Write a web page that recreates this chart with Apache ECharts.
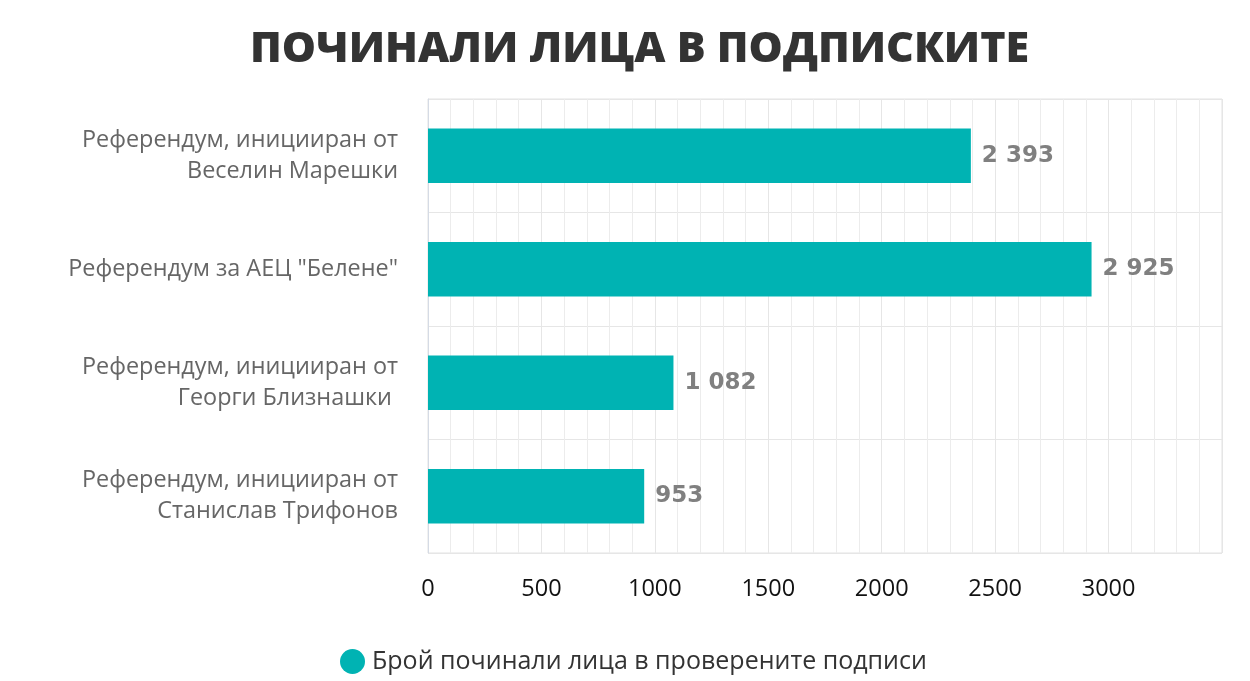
<!DOCTYPE html>
<html><head><meta charset="utf-8">
<script src="https://cdn.jsdelivr.net/npm/echarts@6/dist/echarts.min.js"></script>
<style>html,body{margin:0;padding:0;background:#fff}#c{width:1250px;height:681px}</style>
</head><body><div id="c"></div>
<script>
const titleText = 'ПОЧИНАЛИ ЛИЦА В ПОДПИСКИТЕ';
const seriesName = 'Брой починали лица в проверените подписи';
const categories = [
  'Референдум, иницииран от\nВеселин Марешки',
  'Референдум за АЕЦ "Белене"',
  'Референдум, иницииран от\nГеорги Близнашки ',
  'Референдум, иницииран от\nСтанислав Трифонов'
];
const values = [2393, 2925, 1082, 953];
const xTicks = [0, 500, 1000, 1500, 2000, 2500, 3000];

function fmt(v){ return String(v).replace(/\B(?=(\d{3})+(?!\d))/g, ' '); }

const chart = echarts.init(document.getElementById('c'));
chart.setOption({
  backgroundColor: '#fff',
  title: {
    text: titleText, left: 245, top: 23,
    textStyle: { fontFamily: 'Open Sans', fontWeight: 800, fontSize: 43, color: '#333' }
  },
  legend: {
    bottom: 2, left: 335, icon: 'circle', itemWidth: 25, itemHeight: 25, itemGap: 12,
    textStyle: { fontFamily: 'Open Sans', fontSize: 25, color: '#333', padding: [0, 0, 0, 2] },
    data: [seriesName]
  },
  grid: { left: 428, right: 28, top: 99, bottom: 128, show: true, borderColor: '#e2e2e2', borderWidth: 1 },
  xAxis: {
    type: 'value', min: 0, max: 3500, interval: 500,
    axisLine: { show: false }, axisTick: { show: false },
    axisLabel: {
      fontFamily: 'Open Sans', fontSize: 23.5, color: '#111', margin: 24,
      formatter: v => xTicks.indexOf(v) >= 0 ? String(v) : ''
    },
    splitLine: { show: true, lineStyle: { color: '#e6e6e6', width: 1 } },
    minorTick: { show: false, splitNumber: 5 },
    minorSplitLine: { show: true, lineStyle: { color: '#ececec', width: 1 } }
  },
  yAxis: {
    type: 'category', data: categories, inverse: true,
    axisLine: { show: true, lineStyle: { color: '#d5dbe5', width: 1 } },
    axisTick: { show: false },
    axisLabel: { fontFamily: 'Open Sans', fontSize: 23.4, color: '#666', lineHeight: 31, margin: 30, align: 'right' },
    splitLine: { show: true, lineStyle: { color: '#e6e6e6', width: 1 } }
  },
  series: [{
    name: seriesName, type: 'bar', data: values, barWidth: '48%',
    itemStyle: { color: '#00b3b3' },
    label: {
      show: true, position: 'right', distance: 11,
      fontFamily: 'DejaVu Sans', fontWeight: 'bold', fontSize: 23, color: '#808080',
      formatter: p => fmt(p.value)
    }
  }]
});
</script></body></html>
